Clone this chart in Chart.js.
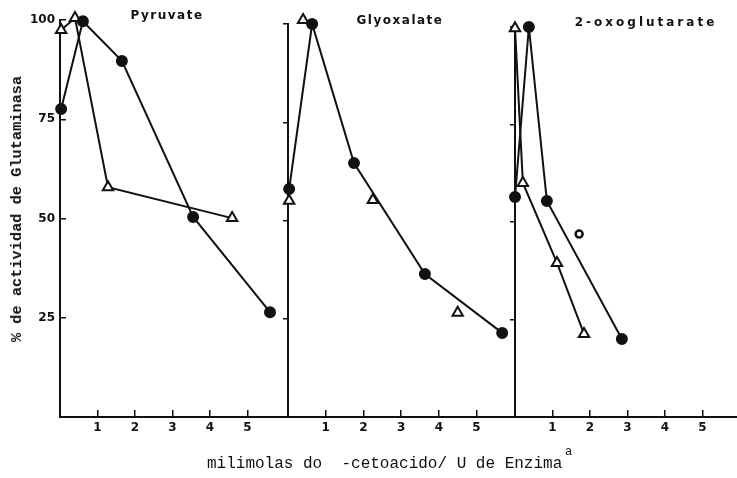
<!DOCTYPE html>
<html>
<head>
<meta charset="utf-8">
<script src="https://cdn.jsdelivr.net/npm/chart.js@4/dist/chart.umd.min.js"></script>
<style>
body{margin:0;background:#fff;}
#wrap{position:relative;width:737px;height:478px;overflow:hidden;background:#fff;}
canvas{position:absolute;top:0;}
.lbl{position:absolute;transform:translateX(-50%);font-family:"DejaVu Sans",sans-serif;font-weight:bold;font-size:12px;letter-spacing:1.5px;white-space:nowrap;color:#111;}
.mono{position:absolute;font-family:"Liberation Mono",monospace;white-space:pre;color:#111;}
</style>
</head>
<body>
<div id="wrap">
  <canvas id="c1" width="292" height="478" style="left:0px"></canvas>
  <canvas id="c2" width="240" height="478" style="left:280px"></canvas>
  <canvas id="c3" width="230" height="478" style="left:507px"></canvas>
  <div class="lbl" style="left:167px;top:8px">Pyruvate</div>
  <div class="lbl" style="left:400px;top:13px">Glyoxalate</div>
  <div class="lbl" style="left:646px;top:15px;letter-spacing:3px">2-oxoglutarate</div>
  <div class="mono" style="font-size:15.3px;font-weight:bold;left:17px;top:209px;transform:translate(-50%,-50%) rotate(-90deg);">% de actividad de Glutaminasa</div>
  <div class="mono" style="font-size:16px;left:207px;top:455px;">milimolas do  -cetoacido/ U de Enzima</div>
  <div class="mono" style="font-size:12px;left:565px;top:445px;">a</div>
</div>
<script>
// valores
const xTicks = [1, 2, 3, 4, 5];
const yTicks = [25, 50, 75, 100];

// Pyruvate
const pyrCircX = [0.03, 0.61, 1.65, 3.55, 5.6];
const pyrCircY = [77.6, 99.7, 89.7, 50.4, 26.4];
const pyrTriX = [0.03, 0.4, 1.28, 4.59];
const pyrTriY = [97.5, 100.5, 57.9, 50.1];

// Glyoxalate
const glyCircX = [0.03, 0.64, 1.75, 3.63, 5.68];
const glyCircY = [58, 100, 64.6, 36.4, 21.4];
const glyTriX = [0.03, 0.4, 2.25, 4.5];
const glyTriY = [55, 101, 55.2, 26.5];

// 2-oxoglutarate
const oxoCircX = [0, 0.37, 0.85, 2.85];
const oxoCircY = [56.4, 100, 55.4, 20];
const oxoTriX = [0, 0.21, 1.12, 1.84];
const oxoTriY = [99.7, 60, 39.5, 21.3];
const oxoOpenX = [1.71];
const oxoOpenY = [46.9];

const ink = '#111';

function pts(xs, ys) {
  return xs.map((x, i) => ({x: x, y: ys[i]}));
}

function circles(xs, ys) {
  return {data: pts(xs, ys), showLine: true, borderColor: ink, borderWidth: 2, pointStyle: 'circle',
    pointRadius: 5, pointBackgroundColor: ink, pointBorderColor: ink, clip: false};
}

function triangles(xs, ys, line) {
  return {data: pts(xs, ys), showLine: line, borderColor: ink, borderWidth: 2, pointStyle: 'triangle',
    pointRadius: 6, pointBackgroundColor: '#fff', pointBorderColor: ink, pointBorderWidth: 2, clip: false};
}

function panel(id, datasets, o) {
  new Chart(document.getElementById(id), {
    type: 'scatter',
    data: {datasets: datasets},
    options: {
      responsive: false,
      animation: false,
      layout: {autoPadding: false, padding: {top: o.top, right: o.right, left: 0, bottom: 0}},
      plugins: {legend: {display: false}, tooltip: {enabled: false}},
      scales: {
        x: {
          type: 'linear', min: 0, max: o.xmax,
          afterBuildTicks: s => { s.ticks = xTicks.map(v => ({value: v})); },
          afterFit: s => { s.height = 61; },
          grid: {drawOnChartArea: false, color: ink, lineWidth: 1.5, tickLength: -7},
          border: {color: ink, width: 2},
          ticks: {color: ink, padding: 11, maxRotation: 0, autoSkip: false,
            font: {family: 'DejaVu Sans', weight: 'bold', size: 12}}
        },
        y: {
          min: 0, max: 100,
          afterBuildTicks: s => { s.ticks = yTicks.map(v => ({value: v})); },
          afterFit: s => { s.width = o.yw; },
          grid: {drawOnChartArea: false, color: ink, lineWidth: 1.5, tickLength: o.labels ? -6 : 5},
          border: {color: ink, width: 2},
          ticks: {color: ink, padding: o.labels ? 11 : 0,
            callback: v => o.labels ? v : '',
            font: {family: 'DejaVu Sans', weight: 'bold', size: 12}}
        }
      }
    }
  });
}

panel('c1', [circles(pyrCircX, pyrCircY), triangles(pyrTriX, pyrTriY, true)],
  {top: 20, right: 4, xmax: 6.08, yw: 60, labels: true});

panel('c2', [circles(glyCircX, glyCircY), triangles(glyTriX, glyTriY, false)],
  {top: 24, right: 5, xmax: 6.02, yw: 8, labels: false});

panel('c3', [circles(oxoCircX, oxoCircY), triangles(oxoTriX, oxoTriY, true),
  {data: pts(oxoOpenX, oxoOpenY), showLine: false, pointStyle: 'circle', pointRadius: 3.5,
    pointBackgroundColor: '#fff', pointBorderColor: ink, pointBorderWidth: 2.5, clip: false}],
  {top: 27, right: 0, xmax: 5.92, yw: 8, labels: false});
</script>
</body>
</html>
